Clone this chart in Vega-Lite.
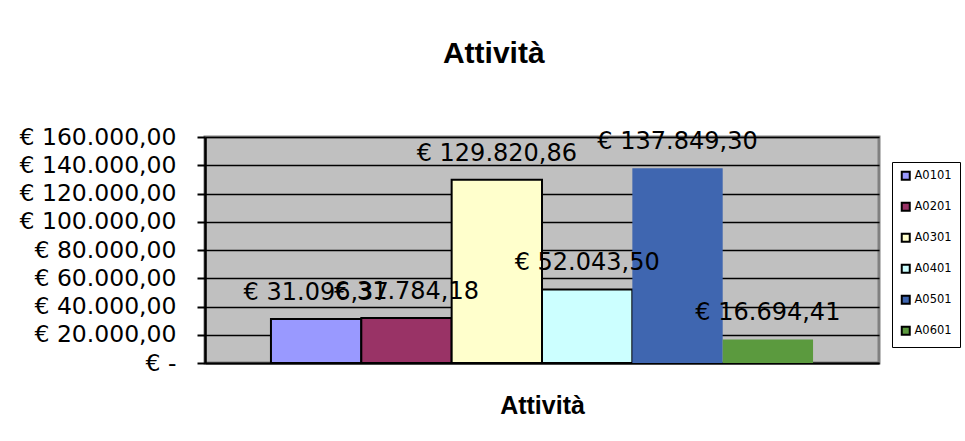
{
  "$schema": "https://vega.github.io/schema/vega-lite/v6.json",
  "width": 674,
  "height": 226,
  "padding": {"left": 19, "top": 39, "right": 2, "bottom": 10},
  "background": "white",
  "config": {
    "locale": {"number": {"decimal": ",", "thousands": ".", "grouping": [3], "currency": ["€ ", ""]}},
    "view": {"fill": "#C0C0C0", "stroke": "#808080", "strokeWidth": 3},
    "font": "DejaVu Sans"
  },
  "title": {"text": "Attività", "font": "Liberation Sans", "fontSize": 30, "fontWeight": "bold", "anchor": "middle", "frame": "bounds", "offset": 56, "color": "black", "dx": 4},
  "data": {"values": [
    {"series": "A0101", "value": 31096.37},
    {"series": "A0201", "value": 31784.18},
    {"series": "A0301", "value": 129820.86},
    {"series": "A0401", "value": 52043.50},
    {"series": "A0501", "value": 137849.30},
    {"series": "A0601", "value": 16694.41}
  ]},
  "encoding": {
    "x": {"field": "series", "type": "nominal", "sort": null,
      "scale": {"paddingInner": 0, "paddingOuter": 0.73},
      "axis": {"title": "Attività", "labels": false, "ticks": false, "domain": true, "domainColor": "black", "domainWidth": 2,
        "titleFont": "Liberation Sans", "titleFontSize": 25, "titleFontWeight": "bold", "titleColor": "black", "titlePadding": 30}},
    "y": {"field": "value", "type": "quantitative",
      "scale": {"domain": [0, 160000], "nice": false},
      "axis": {"title": null, "values": [0, 20000, 40000, 60000, 80000, 100000, 120000, 140000, 160000],
        "format": "$,.2f", "labelExpr": "datum.value == 0 ? '€ -' : datum.label",
        "labelFont": "DejaVu Sans", "labelFontSize": 23.5, "labelColor": "black", "labelPadding": 21,
        "tickColor": "black", "tickWidth": 2, "tickSize": 8,
        "domainColor": "black", "domainWidth": 2.5,
        "grid": true, "gridColor": "black", "gridWidth": 1.5, "gridOpacity": 1}}
  },
  "layer": [
    {
      "mark": {"type": "bar", "stroke": "black"},
      "encoding": {
        "fill": {"field": "series", "type": "nominal",
          "scale": {"domain": ["A0101", "A0201", "A0301", "A0401", "A0501", "A0601"],
            "range": ["#9999FF", "#993366", "#FFFFCC", "#CCFFFF", "#3F66B0", "#5B9A3E"]},
          "legend": {"title": null, "orient": "none", "legendX": 687, "legendY": 25,
            "fillColor": "white", "strokeColor": "black", "padding": 8,
            "symbolType": "square", "symbolSize": 64, "symbolStrokeColor": "black", "symbolStrokeWidth": 2,
            "labelFont": "DejaVu Sans", "labelFontSize": 11.5, "labelColor": "black", "rowPadding": 14, "labelOffset": 3}},
        "strokeWidth": {"condition": {"test": "datum.series == 'A0501' || datum.series == 'A0601'", "value": 0}, "value": 2}
      }
    },
    {
      "mark": {"type": "text", "baseline": "bottom", "dy": -14, "font": "DejaVu Sans", "fontSize": 24, "color": "black"},
      "encoding": {"text": {"field": "value", "type": "quantitative", "format": "$,.2f"}}
    }
  ]
}
